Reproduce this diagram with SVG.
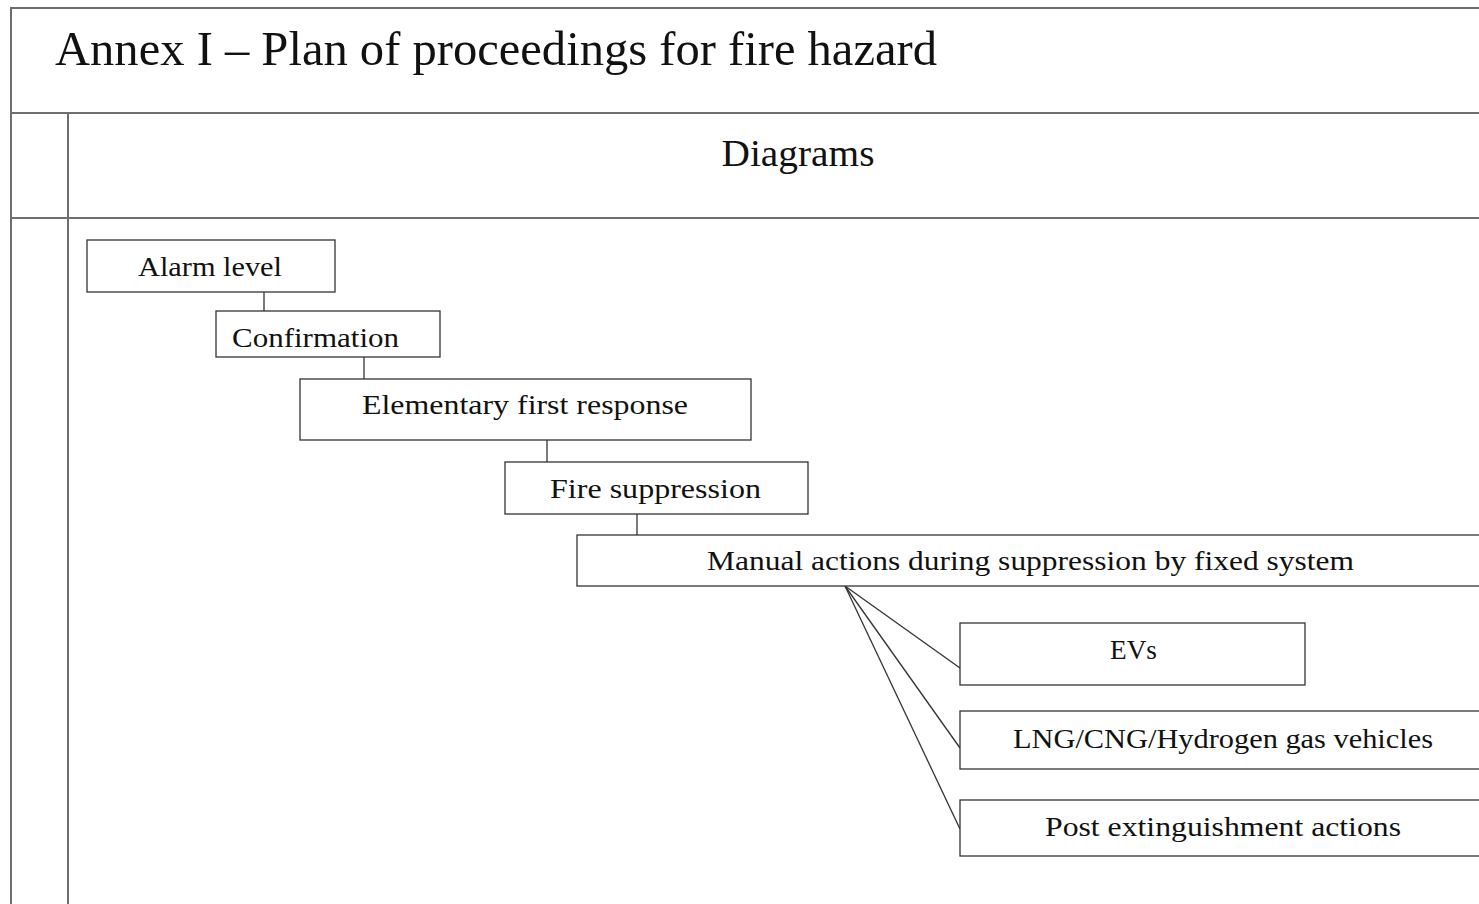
<svg xmlns="http://www.w3.org/2000/svg" width="1479" height="904" viewBox="0 0 1479 904">
<style>
.grid{stroke:#6e6e6e;stroke-width:2;fill:none}
.box{fill:#fff;stroke:#333;stroke-width:1.3}
.lbl{font-family:"Liberation Serif","DejaVu Serif",serif;font-size:28px;fill:#111;text-anchor:middle}
.con{stroke:#333;stroke-width:1.3;fill:none}
</style>
<rect width="1479" height="904" fill="#fff"/>
<g id="table">
<line class="grid" x1="11" y1="8" x2="1479" y2="8"/>
<line class="grid" x1="11" y1="113" x2="1479" y2="113"/>
<line class="grid" x1="11" y1="218" x2="1479" y2="218"/>
<line class="grid" x1="11" y1="7" x2="11" y2="904"/>
<line class="grid" x1="68" y1="113" x2="68" y2="904"/>
<text x="55" y="65" font-family="'Liberation Serif','DejaVu Serif',serif" font-size="48" fill="#111" textLength="882" lengthAdjust="spacingAndGlyphs">Annex I – Plan of proceedings for fire hazard</text>
<text x="798" y="166" font-family="'Liberation Serif','DejaVu Serif',serif" font-size="38" fill="#111" text-anchor="middle" textLength="153" lengthAdjust="spacingAndGlyphs">Diagrams</text>
</g>
<g id="connectors">
<line class="con" x1="264" y1="292" x2="264" y2="311"/>
<line class="con" x1="364" y1="357" x2="364" y2="379"/>
<line class="con" x1="547" y1="440" x2="547" y2="462"/>
<line class="con" x1="637" y1="514" x2="637" y2="535"/>
<line class="con" x1="845" y1="586" x2="960" y2="668"/>
<line class="con" x1="845" y1="586" x2="960" y2="748"/>
<line class="con" x1="845" y1="586" x2="960" y2="829"/>
</g>
<g id="alarm">
<rect class="box" x="87" y="240" width="248" height="52"/>
<text class="lbl" x="210" y="276" textLength="144" lengthAdjust="spacingAndGlyphs">Alarm level</text>
</g>
<g id="confirmation">
<rect class="box" x="216" y="311" width="224" height="46"/>
<text class="lbl" x="315.5" y="347" textLength="167" lengthAdjust="spacingAndGlyphs">Confirmation</text>
</g>
<g id="elementary">
<rect class="box" x="300" y="379" width="451" height="61"/>
<text class="lbl" x="525" y="414" textLength="326" lengthAdjust="spacingAndGlyphs">Elementary first response</text>
</g>
<g id="fire">
<rect class="box" x="505" y="462" width="303" height="52"/>
<text class="lbl" x="655.5" y="498" textLength="211" lengthAdjust="spacingAndGlyphs">Fire suppression</text>
</g>
<g id="manual">
<rect class="box" x="577" y="535" width="910" height="51"/>
<text class="lbl" x="1030.5" y="570" textLength="647" lengthAdjust="spacingAndGlyphs">Manual actions during suppression by fixed system</text>
</g>
<g id="evs">
<rect class="box" x="960" y="623" width="345" height="62"/>
<text class="lbl" x="1133.5" y="659" textLength="47" lengthAdjust="spacingAndGlyphs">EVs</text>
</g>
<g id="lng">
<rect class="box" x="960" y="711" width="530" height="58"/>
<text class="lbl" x="1223" y="748" textLength="420" lengthAdjust="spacingAndGlyphs">LNG/CNG/Hydrogen gas vehicles</text>
</g>
<g id="post">
<rect class="box" x="960" y="800" width="530" height="56"/>
<text class="lbl" x="1223" y="836" textLength="356" lengthAdjust="spacingAndGlyphs">Post extinguishment actions</text>
</g>
</svg>
